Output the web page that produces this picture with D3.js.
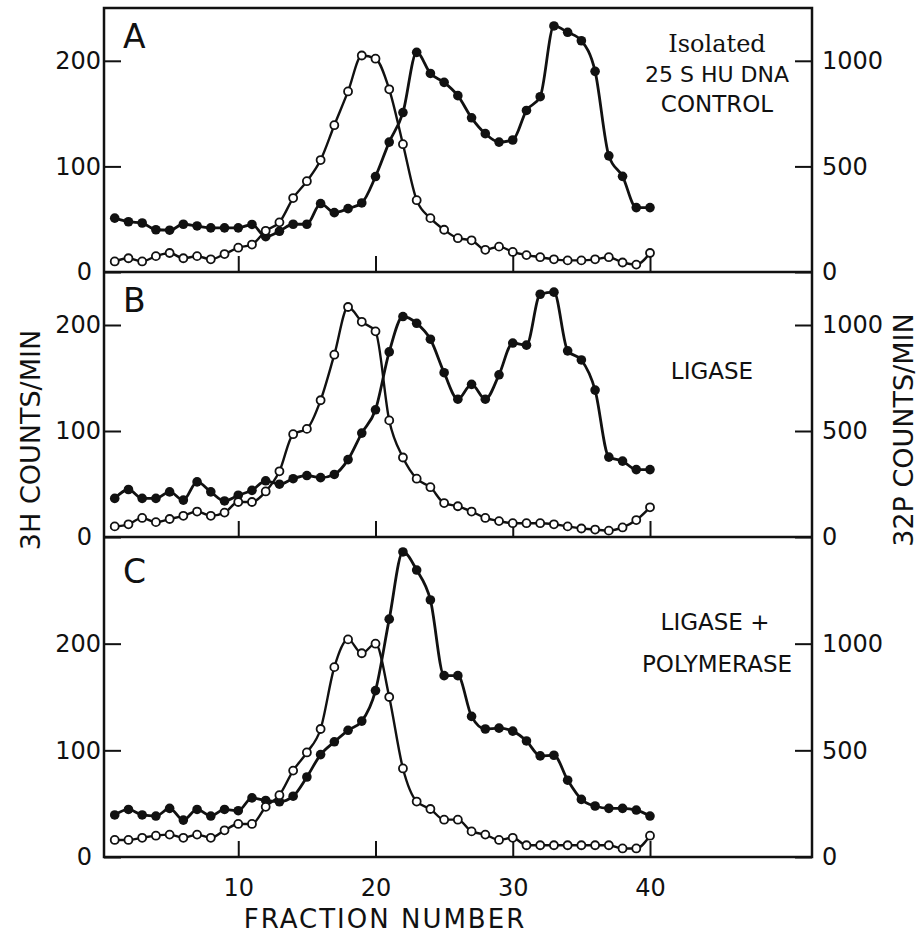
<!DOCTYPE html>
<html>
<head>
<meta charset="utf-8">
<script src="https://cdn.jsdelivr.net/npm/d3@7"></script>
<style>
  html, body { margin: 0; padding: 0; background: #fff; }
  svg { display: block; }
  text { font-family: "DejaVu Sans", sans-serif; fill: #111; }
</style>
</head>
<body>
<svg id="chart" width="923" height="936"></svg>
<script>
// ---------------- DATA ----------------
const fractions = d3.range(1, 41);

// Panel A - Isolated 25 S HU DNA control
const openA = [10, 13, 10, 15, 18, 13, 15, 12, 17, 23, 26, 39, 47, 70, 86, 106, 139, 171, 205, 202,
               173, 121, 68, 51, 40, 32, 30, 21, 24, 19, 16, 14, 12, 11, 11, 12, 14, 9, 7, 18];
const filledA = [255, 238, 232, 200, 198, 226, 218, 209, 209, 209, 225, 167, 193, 226, 226, 324, 281, 300, 327, 452,
                 615, 755, 1040, 940, 898, 835, 730, 655, 615, 625, 765, 830, 1165, 1135, 1095, 950, 550, 453, 305, 305];

// Panel B - Ligase
const openB = [10, 12, 18, 14, 17, 20, 24, 20, 23, 33, 33, 43, 62, 97, 102, 129, 172, 217, 203, 194,
               110, 75, 55, 47, 32, 29, 24, 18, 15, 13, 13, 13, 12, 10, 8, 7, 6, 9, 16, 28];
const filledB = [182, 224, 182, 182, 213, 174, 260, 213, 170, 197, 220, 265, 249, 275, 290, 280, 295, 365, 490, 600,
                 873, 1040, 1008, 933, 775, 650, 720, 650, 765, 915, 905, 1145, 1155, 878, 835, 693, 377, 358, 318, 318];

// Panel C - Ligase + Polymerase
const openC = [16, 16, 18, 20, 21, 18, 21, 18, 25, 31, 31, 47, 58, 81, 98, 120, 178, 204, 191, 200,
               150, 83, 52, 45, 35, 35, 24, 21, 16, 18, 11, 11, 11, 11, 11, 11, 11, 8, 8, 20];
const filledC = [197, 223, 197, 192, 228, 173, 223, 192, 223, 217, 277, 265, 259, 285, 375, 480, 540, 594, 637, 780,
                 1115, 1430, 1345, 1205, 850, 850, 659, 600, 604, 590, 544, 474, 477, 360, 270, 239, 228, 228, 220, 192];

const panelLetters = ["A", "B", "C"];
const panelLabels = [["Isolated", "25 S HU DNA", "CONTROL"], ["LIGASE"], ["LIGASE +", "POLYMERASE"]];
const leftTicks = [0, 100, 200];
const rightTicks = [0, 500, 1000];
const xTicks = [10, 20, 30, 40];
const leftMax = [250, 250, 300];
const xTitle = "FRACTION NUMBER";
const leftTitle = "3H COUNTS/MIN";
const rightTitle = "32P COUNTS/MIN";

// ---------------- LAYOUT ----------------
const svg = d3.select("#chart");
const frameL = 104, frameR = 812;
const panelTops = [8, 272, 537];
const panelBottoms = [272, 537, 857];
const x = d3.scaleLinear().domain([0, 40]).range([101, 650]);
const fmt = d3.format("d");

const panels = [
  { open: openA, filled: filledA },
  { open: openB, filled: filledB },
  { open: openC, filled: filledC }
];

panels.forEach((p, i) => {
  const top = panelTops[i], bot = panelBottoms[i];
  const yL = d3.scaleLinear().domain([0, leftMax[i]]).range([bot, top]);
  const yR = d3.scaleLinear().domain([0, leftMax[i] * 5]).range([bot, top]);
  const g = svg.append("g");

  // left axis
  const la = g.append("g").attr("transform", `translate(${frameL},0)`)
    .call(d3.axisLeft(yL).tickValues(leftTicks).tickFormat(fmt).tickSizeInner(-17).tickSizeOuter(0).tickPadding(4));
  la.select(".domain").remove();
  la.selectAll("line").attr("stroke", "#111").attr("stroke-width", 2);
  la.selectAll("text").style("font-size", "24px").attr("fill", "#111")
    .attr("x", d => d === 0 ? -12 : -3);

  // right axis
  const ra = g.append("g").attr("transform", `translate(${frameR},0)`)
    .call(d3.axisRight(yR).tickValues(rightTicks).tickFormat(fmt).tickSizeInner(-17).tickSizeOuter(0).tickPadding(10));
  ra.select(".domain").remove();
  ra.selectAll("line").attr("stroke", "#111").attr("stroke-width", 2);
  ra.selectAll("text").style("font-size", "24px").attr("fill", "#111");

  // x ticks
  const xa = g.append("g").attr("transform", `translate(0,${bot})`)
    .call(d3.axisBottom(x).tickValues(xTicks).tickFormat(fmt).tickSizeInner(-16).tickSizeOuter(0).tickPadding(22));
  xa.select(".domain").remove();
  xa.selectAll("line").attr("stroke", "#111").attr("stroke-width", 2);
  if (i < 2) xa.selectAll("text").remove();
  else xa.selectAll("text").style("font-size", "24px").attr("fill", "#111");

  // lines
  const lineL = d3.line().x((d, k) => x(fractions[k])).y(d => yL(d)).curve(d3.curveMonotoneX);
  const lineR = d3.line().x((d, k) => x(fractions[k])).y(d => yR(d)).curve(d3.curveMonotoneX);
  g.append("path").datum(p.open).attr("d", lineL).attr("fill", "none")
    .attr("stroke", "#111").attr("stroke-width", 2.4);
  g.append("path").datum(p.filled).attr("d", lineR).attr("fill", "none")
    .attr("stroke", "#111").attr("stroke-width", 2.8);

  g.selectAll("circle.f").data(p.filled).enter().append("circle")
    .attr("class", "f").attr("cx", (d, k) => x(fractions[k])).attr("cy", d => yR(d))
    .attr("r", 4.8).attr("fill", "#111");
  g.selectAll("circle.o").data(p.open).enter().append("circle")
    .attr("class", "o").attr("cx", (d, k) => x(fractions[k])).attr("cy", d => yL(d))
    .attr("r", 4).attr("fill", "#fff").attr("stroke", "#111").attr("stroke-width", 1.8);

  // panel letter
  g.append("text").attr("x", 123).attr("y", top + (i === 2 ? 46 : 40))
    .style("font-size", "33px").text(panelLetters[i]);
});

// frame
const frame = svg.append("g").attr("stroke", "#111").attr("stroke-width", 2.5).attr("fill", "none");
frame.append("rect").attr("x", frameL).attr("y", panelTops[0])
  .attr("width", frameR - frameL).attr("height", panelBottoms[2] - panelTops[0]);
panelBottoms.slice(0, 2).forEach(yv => {
  frame.append("line").attr("x1", frameL).attr("x2", frameR).attr("y1", yv).attr("y2", yv);
});

// panel annotations
const ann = svg.append("g").attr("text-anchor", "middle");
ann.append("text").attr("x", 717).attr("y", 52).style("font-size", "24px")
  .style("font-family", "'DejaVu Serif', serif").text(panelLabels[0][0]);
ann.append("text").attr("x", 717).attr("y", 82).style("font-size", "22px").text(panelLabels[0][1]);
ann.append("text").attr("x", 717).attr("y", 112).style("font-size", "23px").text(panelLabels[0][2]);
ann.append("text").attr("x", 712).attr("y", 379).style("font-size", "23px").text(panelLabels[1][0]);
ann.append("text").attr("x", 715).attr("y", 630).style("font-size", "23px").text(panelLabels[2][0]);
ann.append("text").attr("x", 717).attr("y", 672).style("font-size", "23px").text(panelLabels[2][1]);

// axis titles
svg.append("text").attr("text-anchor", "middle").attr("x", 385).attr("y", 928)
  .style("font-size", "26px").style("letter-spacing", "2px").text(xTitle);
svg.append("text").attr("text-anchor", "middle")
  .attr("transform", "translate(40,440) rotate(-90)")
  .style("font-size", "27px").text(leftTitle);
svg.append("text").attr("text-anchor", "middle")
  .attr("transform", "translate(913,430) rotate(-90)")
  .style("font-size", "27px").text(rightTitle);
</script>
</body>
</html>
